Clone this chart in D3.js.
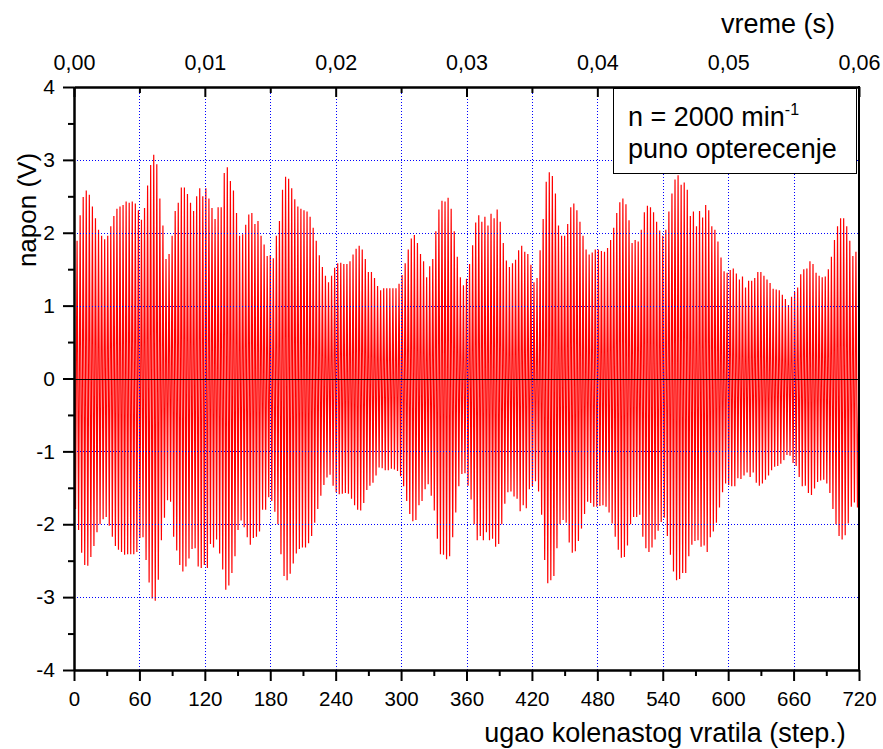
<!DOCTYPE html>
<html>
<head>
<meta charset="utf-8">
<script src="https://cdn.jsdelivr.net/npm/d3@7"></script>
<style>
  body { margin: 0; background: #fff; }
  svg { display: block; }
  text { font-family: "Liberation Sans", Arial, Helvetica, sans-serif; fill: #000; }
</style>
</head>
<body>
<svg id="chart" width="883" height="749"></svg>
<script>
// Crank angle axis (degrees) and matching time axis (s) at n = 2000 min^-1
const angleTicks = [0, 60, 120, 180, 240, 300, 360, 420, 480, 540, 600, 660, 720];
const angleMinorTicks = [30, 90, 150, 210, 270, 330, 390, 450, 510, 570, 630, 690];
const timeTicks = [0, 0.01, 0.02, 0.03, 0.04, 0.05, 0.06];
const timeMinorTicks = [0.005, 0.015, 0.025, 0.035, 0.045, 0.055];
const voltTicks = [-4, -3, -2, -1, 0, 1, 2, 3, 4];
const voltMinorTicks = [-3.5, -2.5, -1.5, -0.5, 0.5, 1.5, 2.5, 3.5];
const gridAngles = [60, 120, 180, 240, 300, 360, 420, 480, 540, 600, 660];
const gridVolts = [-3, -2, -1, 1, 2, 3];

// Sensor voltage: successive positive and negative peaks over two crank revolutions
const positivePeaks = [
  1.79, 1.89, 2.24, 2.49, 2.58, 2.52, 2.36, 2.20, 2.04, 1.96,
  1.91, 1.96, 2.09, 2.23, 2.33, 2.36, 2.38, 2.43, 2.41, 2.43,
  2.40, 2.31, 2.18, 2.34, 2.65, 2.93, 3.07, 2.94, 2.47, 2.10,
  1.64, 1.71, 1.96, 2.30, 2.41, 2.62, 2.62, 2.53, 2.41, 2.30,
  2.50, 2.61, 2.50, 2.61, 2.47, 2.34, 2.19, 2.35, 2.35, 2.82,
  2.90, 2.71, 2.58, 2.27, 1.96, 1.98, 2.11, 2.25, 2.27, 2.12,
  2.16, 1.96, 1.84, 1.68, 1.69, 1.65, 1.96, 2.16, 2.59, 2.77,
  2.74, 2.61, 2.46, 2.36, 2.33, 2.31, 2.29,
  2.22, 2.07, 1.89, 1.69, 1.53, 1.41, 1.32, 1.41, 1.52, 1.58,
  1.59, 1.57, 1.57, 1.61, 1.70, 1.78, 1.82, 1.77, 1.64, 1.46,
  1.46, 1.38, 1.27, 1.21, 1.24, 1.24, 1.24, 1.24, 1.24, 1.30,
  1.42, 1.58, 1.77, 1.92, 1.97, 1.86, 1.71, 1.61, 1.39, 1.54,
  1.64, 2.02, 2.32, 2.44, 2.43, 2.48, 2.33, 2.02, 1.67, 1.39,
  1.28, 1.37, 1.57, 1.83, 2.14, 2.24, 2.15, 2.22, 2.10, 2.26,
  2.20, 2.32, 2.15, 1.86, 1.62, 1.53, 1.58, 1.63, 1.76, 1.82,
  1.74, 1.71, 1.56, 1.32, 1.38, 1.76, 2.19, 2.70,
  2.83, 2.78, 2.54, 2.10, 1.96, 1.96, 2.12, 2.35, 2.40, 2.31,
  2.15, 1.96, 1.77, 1.70, 1.73, 1.77, 1.77, 1.75, 1.74, 1.79,
  1.90, 2.07, 2.27, 2.42, 2.47, 2.39, 2.17, 1.86, 1.90, 1.88,
  2.04, 2.28, 2.37, 2.35, 2.28, 2.15, 2.03, 1.96, 2.04, 2.29,
  2.54, 2.73, 2.79, 2.66, 2.69, 2.59, 2.23, 2.29, 2.09, 2.30,
  2.21, 2.38, 2.31, 2.09, 2.04, 1.88, 1.66, 1.47, 1.45, 1.49,
  1.51, 1.44, 1.36, 1.40, 1.25, 1.34, 1.34, 1.38, 1.46, 1.46,
  1.41, 1.36, 1.31, 1.23, 1.22, 1.21, 1.15, 1.09, 1.01, 1.12,
  1.19, 1.25, 1.43, 1.50, 1.51, 1.61, 1.57, 1.45, 1.41, 1.39,
  1.40, 1.50, 1.67, 1.90, 2.09, 2.20, 2.20, 2.09, 1.89, 1.68,
  1.74, 0.19
];
const negativePeaks = [
  -1.79, -2.08, -2.39, -2.56, -2.57, -2.45, -2.30, -2.11, -2.00, -1.93,
  -1.90, -2.02, -2.17, -2.30, -2.35, -2.38, -2.42, -2.41, -2.41, -2.41,
  -2.38, -2.19, -2.18, -2.49, -2.80, -3.02, -3.05, -2.76, -2.22, -1.91,
  -1.67, -1.69, -2.17, -2.36, -2.56, -2.65, -2.58, -2.47, -2.34, -2.33,
  -2.58, -2.60, -2.56, -2.60, -2.27, -2.32, -2.21, -2.40, -2.62, -2.90,
  -2.84, -2.67, -2.44, -2.08, -1.95, -2.04, -2.18, -2.28, -2.19, -2.17,
  -2.10, -1.80, -1.80, -1.63,
  -1.68, -1.83, -2.00, -2.41, -2.71, -2.77, -2.68, -2.54, -2.40, -2.34,
  -2.32, -2.32, -2.26, -2.16, -1.98, -1.79, -1.61, -1.46, -1.36, -1.32,
  -1.47, -1.56, -1.59, -1.58, -1.57, -1.58, -1.65, -1.74, -1.80, -1.81,
  -1.71, -1.53, -1.47, -1.43, -1.33, -1.22, -1.23, -1.26, -1.26, -1.24,
  -1.25, -1.27, -1.34, -1.48, -1.68, -1.86, -1.96, -1.94, -1.74, -1.68,
  -1.52, -1.45, -1.61, -1.81, -2.20, -2.41, -2.42, -2.48, -2.44, -2.18,
  -1.84, -1.48, -1.31, -1.30, -1.47, -1.66,
  -2.00, -2.22, -2.16, -2.22, -2.11, -2.22, -2.20, -2.31, -2.27, -2.00,
  -1.72, -1.56, -1.55, -1.62, -1.65, -1.82, -1.74, -1.78, -1.52, -1.48,
  -1.41, -1.55, -1.87, -2.49, -2.81, -2.77, -2.71, -2.33, -2.00, -1.94,
  -1.98, -2.25, -2.39, -2.37, -2.23, -2.06, -1.86, -1.69, -1.71, -1.76,
  -1.76, -1.75, -1.74, -1.76, -1.84, -1.99, -2.17, -2.35, -2.46, -2.45,
  -2.29, -2.00, -1.90, -1.90, -1.87, -2.17, -2.33, -2.38, -2.32, -2.21,
  -2.09, -1.97, -1.91, -2.16, -2.42, -2.65, -2.77,
  -2.75, -2.67, -2.67, -2.44, -2.28, -2.23, -2.22, -2.31, -2.29, -2.38,
  -2.18, -2.10, -1.98, -1.77, -1.56, -1.44, -1.46, -1.48, -1.48, -1.37,
  -1.38, -1.33, -1.29, -1.35, -1.29, -1.43, -1.47, -1.44, -1.39, -1.33,
  -1.26, -1.21, -1.20, -1.17, -1.12, -1.05, -1.06, -1.16, -1.20, -1.35,
  -1.48, -1.47, -1.57, -1.60, -1.51, -1.42, -1.40, -1.39, -1.44, -1.57,
  -1.79, -2.00, -2.16, -2.21, -2.15, -1.99, -1.76, -1.70, -1.77
];

const legendLines = ["n = 2000 min", "puno opterecenje"];
const legendSup = "-1";

const svg = d3.select("#chart");
const plot = { left: 74, right: 859, top: 87, bottom: 670 };

const x = d3.scaleLinear().domain([0, 720]).range([plot.left, plot.right]);
const t = d3.scaleLinear().domain([0, 0.06]).range([plot.left, plot.right]);
const y = d3.scaleLinear().domain([-4, 4]).range([plot.bottom, plot.top]);

// Alternate positive and negative peaks, half a tooth period apart
const period = 720 / (positivePeaks.length - 1);
const signal = [];
positivePeaks.forEach((v, i) => {
  signal.push({ deg: i * period, v });
  if (i < negativePeaks.length) signal.push({ deg: (i + 0.5) * period, v: negativePeaks[i] });
});

svg.append("clipPath").attr("id", "plot-clip")
  .append("rect")
  .attr("x", plot.left).attr("y", plot.top)
  .attr("width", plot.right - plot.left).attr("height", plot.bottom - plot.top);

svg.append("path")
  .datum(signal)
  .attr("clip-path", "url(#plot-clip)")
  .attr("fill", "none")
  .attr("stroke", "#ff0000")
  .attr("stroke-width", 1.2)
  .attr("stroke-linejoin", "miter")
  .attr("d", d3.line().x(d => x(d.deg)).y(d => y(d.v)));

// Dotted grid
const grid = svg.append("g").attr("stroke", "#0000ff").attr("stroke-width", 1)
  .attr("stroke-dasharray", "1,2");
grid.selectAll("line.gx").data(gridAngles).join("line")
  .attr("x1", d => Math.round(x(d)) + 0.5).attr("x2", d => Math.round(x(d)) + 0.5)
  .attr("y1", plot.top).attr("y2", plot.bottom);
grid.selectAll("line.gy").data(gridVolts).join("line")
  .attr("y1", d => Math.round(y(d)) + 0.5).attr("y2", d => Math.round(y(d)) + 0.5)
  .attr("x1", plot.left).attr("x2", plot.right);

// Zero line
svg.append("line")
  .attr("x1", plot.left).attr("x2", plot.right)
  .attr("y1", Math.round(y(0)) + 0.5).attr("y2", Math.round(y(0)) + 0.5)
  .attr("stroke", "#000").attr("stroke-width", 1);

function styleAxis(size) {
  return g => {
    g.selectAll("path.domain").attr("stroke", "#000").attr("stroke-width", 2);
    g.selectAll(".tick line").attr("stroke", "#000").attr("stroke-width", 2);
    g.selectAll(".tick text").attr("font-size", size).attr("fill", "#000")
      .attr("font-family", "'Liberation Sans', Arial, sans-serif");
  };
}
const commaFmt = d => d3.format(".2f")(d).replace(".", ",");
const plainFmt = d => String(d);

// Bottom axis: crank angle
svg.append("g").attr("transform", `translate(0,${plot.bottom})`)
  .call(d3.axisBottom(x).tickValues(angleMinorTicks).tickSize(6).tickSizeOuter(0).tickFormat(""))
  .call(styleAxis(20.5));
svg.append("g").attr("transform", `translate(0,${plot.bottom})`)
  .call(d3.axisBottom(x).tickValues(angleTicks).tickSize(11).tickSizeOuter(0).tickPadding(10).tickFormat(plainFmt))
  .call(styleAxis(20.5));

// Left axis: voltage
svg.append("g").attr("transform", `translate(${plot.left},0)`)
  .call(d3.axisLeft(y).tickValues(voltMinorTicks).tickSize(6).tickSizeOuter(0).tickFormat(""))
  .call(styleAxis(20.5));
svg.append("g").attr("transform", `translate(${plot.left},0)`)
  .call(d3.axisLeft(y).tickValues(voltTicks).tickSize(11).tickSizeOuter(0).tickPadding(8).tickFormat(plainFmt))
  .call(styleAxis(21));

// Top axis: time, ticks pointing into the plot
svg.append("g").attr("transform", `translate(0,${plot.top})`)
  .call(d3.axisTop(t).tickValues(timeMinorTicks).tickSize(-6).tickSizeOuter(0).tickFormat(""))
  .call(styleAxis(21.5));
svg.append("g").attr("transform", `translate(0,${plot.top})`)
  .call(d3.axisTop(t).tickValues(timeTicks).tickSize(-10).tickSizeOuter(0).tickPadding(17).tickFormat(commaFmt))
  .call(styleAxis(21.5));

// Right frame edge
svg.append("line")
  .attr("x1", plot.right).attr("x2", plot.right)
  .attr("y1", plot.top - 1).attr("y2", plot.bottom + 1)
  .attr("stroke", "#000").attr("stroke-width", 2);

// Axis titles
svg.append("text").attr("x", 778).attr("y", 33).attr("text-anchor", "middle")
  .attr("font-size", 27).text("vreme (s)");
svg.append("text").attr("x", 665).attr("y", 742).attr("text-anchor", "middle")
  .attr("font-size", 27).text("ugao kolenastog vratila (step.)");
svg.append("text").attr("transform", "translate(36,210) rotate(-90)")
  .attr("text-anchor", "middle").attr("font-size", 26).text("napon (V)");

// Legend box
const legend = svg.append("g");
legend.append("rect")
  .attr("x", 613.5).attr("y", 88.5).attr("width", 243).attr("height", 85)
  .attr("fill", "#fff").attr("stroke", "#000").attr("stroke-width", 1);
const l1 = legend.append("text").attr("x", 628).attr("y", 126).attr("font-size", 27);
l1.append("tspan").text(legendLines[0]);
l1.append("tspan").attr("font-size", 16).attr("dy", -11).text(legendSup);
legend.append("text").attr("x", 628).attr("y", 158).attr("font-size", 27).text(legendLines[1]);
</script>
</body>
</html>
